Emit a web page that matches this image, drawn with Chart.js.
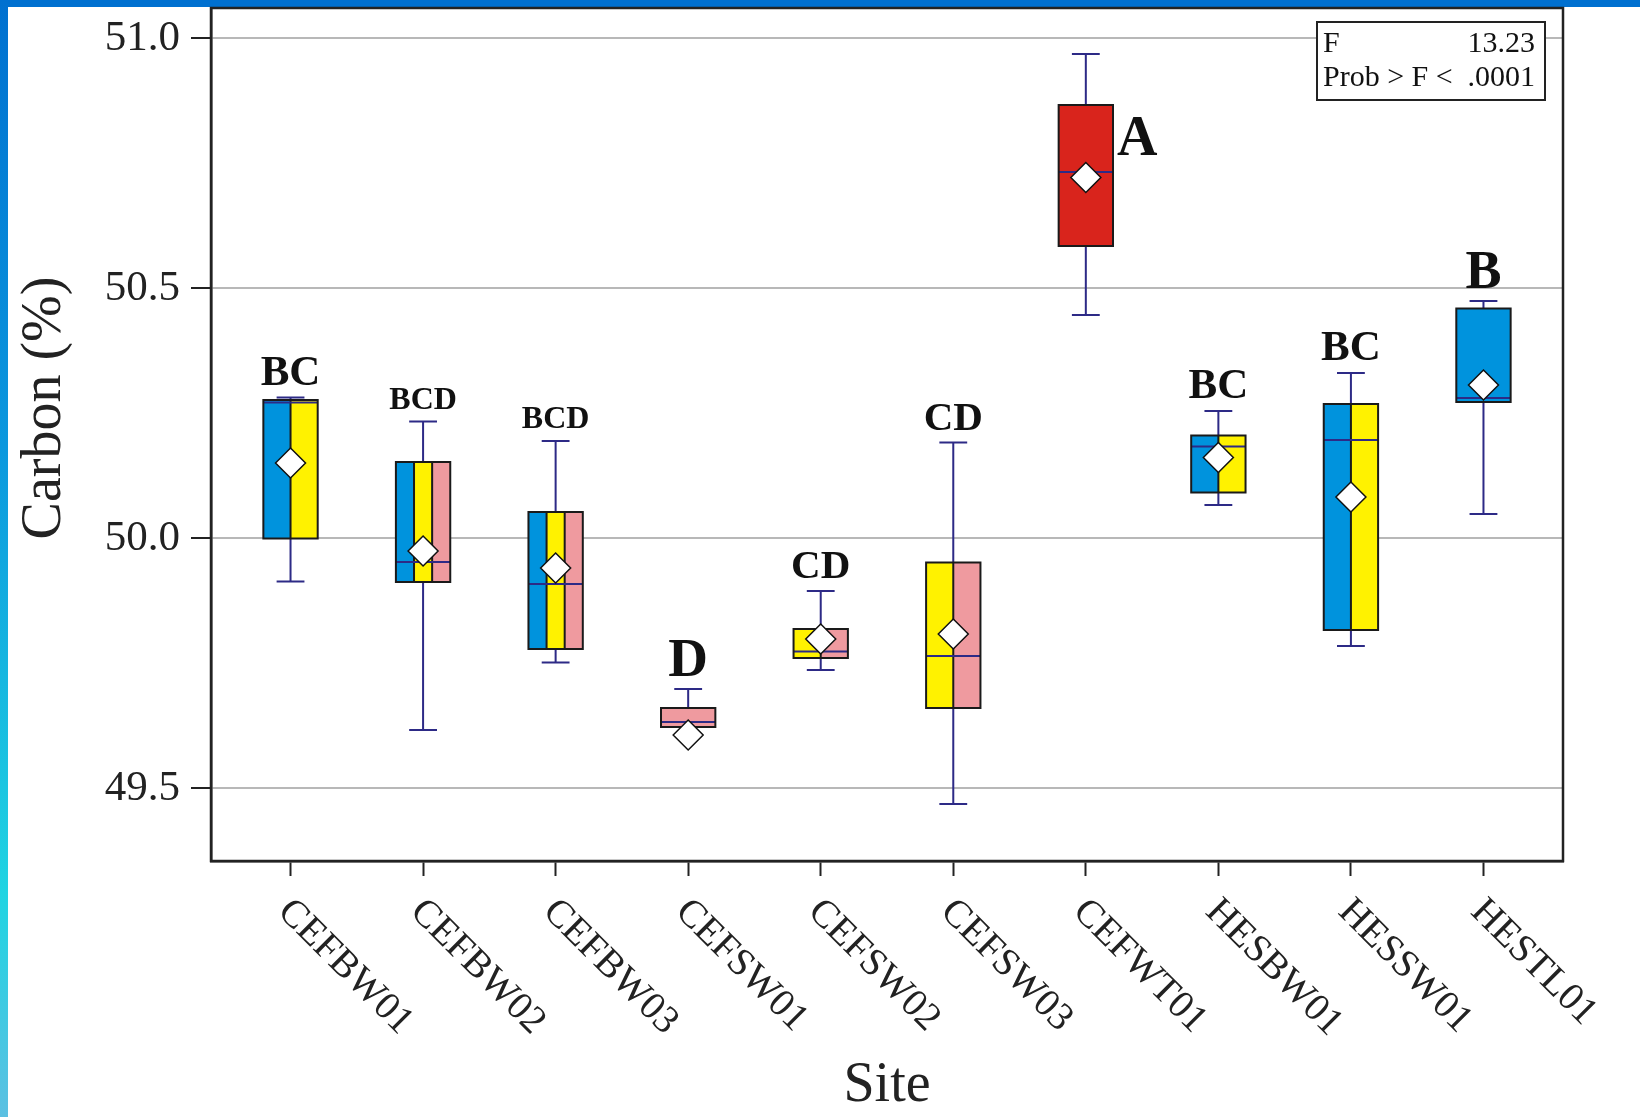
<!DOCTYPE html>
<html>
<head>
<meta charset="utf-8">
<title>Carbon by site</title>
<script src="https://cdn.jsdelivr.net/npm/chart.js@4.4.1/dist/chart.umd.min.js"></script>
<style>
    html, body { margin: 0; padding: 0; background: #fff; }
    #wrap { position: relative; width: 1640px; height: 1117px; overflow: hidden; background: #fff; }
    #topbar { position: absolute; left: 0; top: 0; width: 1640px; height: 7px; background: #0070d0; }
    #leftbar { position: absolute; left: 0; top: 0; width: 8px; height: 1117px;
        background: linear-gradient(to bottom, #0070d0 0%, #0b98de 40%, #20d4e2 80%, #5cc0e2 100%); }
    canvas { position: absolute; left: 0; top: 0; }
</style>
</head>
<body>
<div id="wrap">
    <div id="topbar"></div>
    <div id="leftbar"></div>
    <canvas id="js--chart" width="1640" height="1117"></canvas>
</div>
<script>
/* data */
const sites = ["CEFBW01", "CEFBW02", "CEFBW03", "CEFSW01", "CEFSW02",
    "CEFSW03", "CEFWT01", "HESBW01", "HESSW01", "HESTL01"];

const lowWhisker = [49.914, 49.617, 49.752, 49.623, 49.737, 49.469, 50.447, 50.067, 49.785, 50.049];
const q1 = [50.000, 49.913, 49.779, 49.623, 49.761, 49.661, 50.585, 50.092, 49.817, 50.273];
const medians = [50.272, 49.953, 49.909, 49.633, 49.774, 49.765, 50.733, 50.184, 50.197, 50.281];
const q3 = [50.277, 50.153, 50.053, 49.661, 49.819, 49.952, 50.867, 50.206, 50.269, 50.460];
const highWhisker = [50.282, 50.234, 50.195, 49.699, 49.895, 50.192, 50.969, 50.255, 50.331, 50.475];
const means = [50.151, 49.975, 49.941, 49.607, 49.799, 49.809, 50.722, 50.162, 50.083, 50.307];

const groupLetters = ["BC", "BCD", "BCD", "D", "CD", "CD", "A", "BC", "BC", "B"];

// which wood types make up each box
const boxParts = [
    ["blue", "yellow"], ["blue", "yellow", "pink"], ["blue", "yellow", "pink"], ["pink"],
    ["yellow", "pink"], ["yellow", "pink"], ["red"], ["blue", "yellow"], ["blue", "yellow"], ["blue"]
];

const yTicks = [49.5, 50.0, 50.5, 51.0];
const fValue = "13.23";
const probValue = ".0001";

/* styles */
const partColors = { blue: "#0093dd", yellow: "#fff200", pink: "#ef9a9f", red: "#d9241c" };
const letterSizes = [43, 32, 32, 55, 41, 41, 56, 43, 43, 54];
const letterBeside = [false, false, false, false, false, false, true, false, false, false];
const whiskerColor = "#2d2a86";
const ink = "#1a1a1a";
const serif = '"Liberation Serif", "Times New Roman", serif';

const boxPlugin = {
    id: "boxes",
    beforeDatasetsDraw(chart) {
        const ctx = chart.ctx;
        const x = chart.scales.x;
        const y = chart.scales.y;
        const boxHalf = x.getPixelForValue(0.205) - x.getPixelForValue(0);
        const capHalf = x.getPixelForValue(0.105) - x.getPixelForValue(0);

        ctx.save();
        for (let i = 0; i < sites.length; i++) {
            const cx = x.getPixelForValue(i);
            const yLo = y.getPixelForValue(lowWhisker[i]);
            const yHi = y.getPixelForValue(highWhisker[i]);
            const yQ1 = y.getPixelForValue(q1[i]);
            const yQ3 = y.getPixelForValue(q3[i]);
            const yMed = y.getPixelForValue(medians[i]);

            // whiskers
            ctx.strokeStyle = whiskerColor;
            ctx.lineWidth = 2;
            ctx.beginPath();
            ctx.moveTo(cx, yLo);
            ctx.lineTo(cx, yHi);
            ctx.moveTo(cx - capHalf, yLo);
            ctx.lineTo(cx + capHalf, yLo);
            ctx.moveTo(cx - capHalf, yHi);
            ctx.lineTo(cx + capHalf, yHi);
            ctx.stroke();

            // coloured stripes
            const parts = boxParts[i];
            const w = (2 * boxHalf) / parts.length;
            for (let j = 0; j < parts.length; j++) {
                ctx.fillStyle = partColors[parts[j]];
                ctx.fillRect(cx - boxHalf + j * w, yQ3, w, yQ1 - yQ3);
            }
            ctx.strokeStyle = ink;
            ctx.lineWidth = 2;
            ctx.beginPath();
            for (let j = 1; j < parts.length; j++) {
                ctx.moveTo(cx - boxHalf + j * w, yQ3);
                ctx.lineTo(cx - boxHalf + j * w, yQ1);
            }
            ctx.stroke();

            // median
            ctx.strokeStyle = whiskerColor;
            ctx.beginPath();
            ctx.moveTo(cx - boxHalf, yMed);
            ctx.lineTo(cx + boxHalf, yMed);
            ctx.stroke();

            ctx.strokeStyle = ink;
            ctx.strokeRect(cx - boxHalf, yQ3, 2 * boxHalf, yQ1 - yQ3);
        }
        ctx.restore();
    },
    afterDatasetsDraw(chart) {
        const ctx = chart.ctx;
        const area = chart.chartArea;
        const x = chart.scales.x;
        const y = chart.scales.y;
        const boxHalf = x.getPixelForValue(0.205) - x.getPixelForValue(0);

        ctx.save();
        // frame round the plot
        ctx.strokeStyle = "#222";
        ctx.lineWidth = 2.5;
        ctx.strokeRect(area.left, area.top, area.right - area.left, area.bottom - area.top);

        // group letters
        ctx.fillStyle = "#111";
        for (let i = 0; i < sites.length; i++) {
            const cx = x.getPixelForValue(i);
            ctx.font = "bold " + letterSizes[i] + "px " + serif;
            ctx.textBaseline = "alphabetic";
            if (letterBeside[i]) {
                ctx.textAlign = "left";
                ctx.fillText(groupLetters[i], cx + boxHalf + 4, y.getPixelForValue(q3[i]) + 50);
            } else {
                ctx.textAlign = "center";
                ctx.fillText(groupLetters[i], cx, y.getPixelForValue(highWhisker[i]) - 13);
            }
        }

        // F statistic box
        const bx = area.right - 246, by = area.top + 14, bw = 228, bh = 78;
        ctx.fillStyle = "#fff";
        ctx.fillRect(bx, by, bw, bh);
        ctx.strokeStyle = "#222";
        ctx.lineWidth = 2;
        ctx.strokeRect(bx, by, bw, bh);
        ctx.fillStyle = "#111";
        ctx.font = "30px " + serif;
        ctx.textAlign = "left";
        ctx.fillText("F", bx + 6, by + 30);
        ctx.fillText("Prob > F <", bx + 6, by + 64);
        ctx.textAlign = "right";
        ctx.fillText(fValue, bx + bw - 10, by + 30);
        ctx.fillText(probValue, bx + bw - 10, by + 64);

        // rotated site labels
        ctx.font = "39px " + serif;
        ctx.fillStyle = "#222";
        ctx.textAlign = "left";
        ctx.textBaseline = "alphabetic";
        for (let i = 0; i < sites.length; i++) {
            const px = x.getPixelForValue(i);
            ctx.save();
            ctx.translate(px - 14, area.bottom + 52);
            ctx.rotate(Math.PI / 4);
            ctx.fillText(sites[i], 0, 0);
            ctx.restore();
        }

        // y axis title
        ctx.save();
        ctx.font = "56px " + serif;
        ctx.fillStyle = "#222";
        ctx.textAlign = "center";
        ctx.textBaseline = "middle";
        ctx.translate(45, 408);
        ctx.rotate(-Math.PI / 2);
        ctx.fillText("Carbon (%)", 0, 0);
        ctx.restore();

        ctx.restore();
    }
};

const meanPoints = means.map(function (m, i) {
    return { x: i, y: m };
});

new Chart(document.getElementById("js--chart"), {
    type: "scatter",
    data: {
        datasets: [{
            label: "mean",
            data: meanPoints,
            pointStyle: "rectRot",
            pointRadius: 15,
            backgroundColor: "#ffffff",
            borderColor: "#111111",
            borderWidth: 1.5
        }]
    },
    options: {
        responsive: false,
        animation: false,
        events: [],
        layout: {
            autoPadding: false,
            padding: { top: 8, right: 77, bottom: 0, left: 0 }
        },
        plugins: {
            legend: { display: false },
            tooltip: { enabled: false }
        },
        scales: {
            x: {
                type: "linear",
                min: -0.6,
                max: 9.6,
                afterBuildTicks: function (scale) {
                    scale.ticks = sites.map(function (s, i) { return { value: i }; });
                },
                afterFit: function (scale) {
                    scale.height = 256;
                },
                ticks: { display: false },
                grid: {
                    drawOnChartArea: false,
                    drawTicks: true,
                    tickLength: 15,
                    tickColor: "#222",
                    tickWidth: 2
                },
                border: { display: true, color: "#222", width: 2.5 },
                title: {
                    display: true,
                    text: "Site",
                    color: "#222",
                    font: { family: serif, size: 56 },
                    padding: { top: 0, bottom: -3 }
                }
            },
            y: {
                type: "linear",
                min: 49.355,
                max: 51.061,
                afterBuildTicks: function (scale) {
                    scale.ticks = yTicks.map(function (v) { return { value: v }; });
                },
                afterFit: function (scale) {
                    scale.width = 211;
                    scale.paddingTop = 0;
                    scale.paddingBottom = 0;
                },
                ticks: {
                    color: "#222",
                    padding: 11,
                    font: { family: serif, size: 43 },
                    callback: function (value) { return Number(value).toFixed(1); }
                },
                grid: {
                    color: "#b8b8b8",
                    lineWidth: 2,
                    tickLength: 20,
                    tickColor: "#222",
                    tickWidth: 2
                },
                border: { display: true, color: "#222", width: 2.5 }
            }
        }
    },
    plugins: [boxPlugin]
});
</script>
</body>
</html>
